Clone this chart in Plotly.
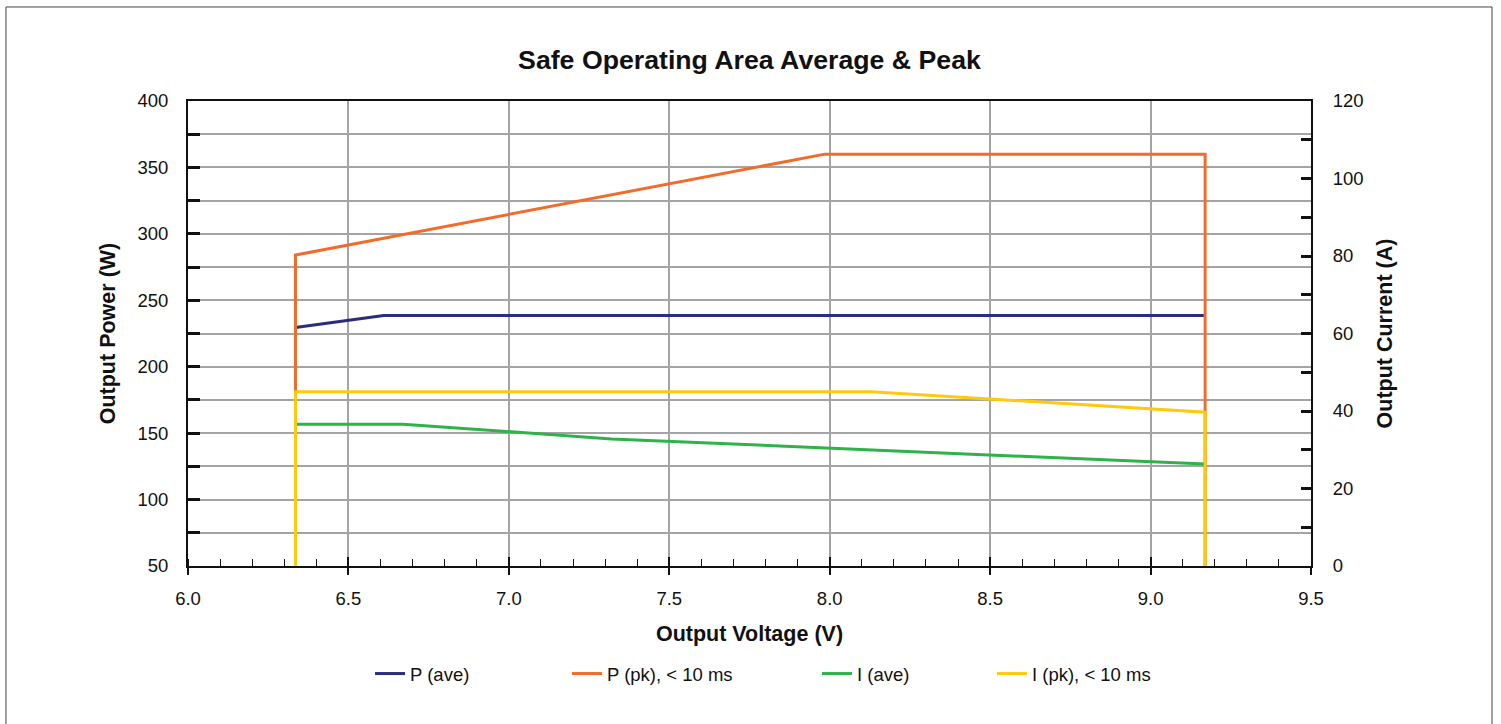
import plotly.graph_objects as go

# ---- data ----
volt_p_ave = [6.335, 6.61, 9.17]
p_ave = [229.5, 238.5, 238.5]

volt_p_pk = [6.335, 6.335, 7.985, 9.17, 9.17]
p_pk = [50, 284, 360, 360, 50]

volt_i_ave = [6.335, 6.67, 7.32, 9.17]
i_ave = [36.6, 36.6, 32.8, 26.3]

volt_i_pk = [6.335, 6.335, 8.13, 9.17, 9.17]
i_pk = [0, 45, 45, 39.7, 0]

series_names = ["P (ave)", "P (pk), < 10 ms", "I (ave)", "I (pk), < 10 ms"]
colors = ["#2b2d7c", "#f26b2b", "#2db34a", "#ffc90e"]

FONT = "Liberation Sans, Arial, sans-serif"

fig = go.Figure()
fig.add_trace(go.Scatter(x=volt_p_ave, y=p_ave, mode="lines", name=series_names[0],
                         line=dict(color=colors[0], width=3), legend="legend"))
fig.add_trace(go.Scatter(x=volt_p_pk, y=p_pk, mode="lines", name=series_names[1],
                         line=dict(color=colors[1], width=3), legend="legend2"))
fig.add_trace(go.Scatter(x=volt_i_ave, y=i_ave, mode="lines", name=series_names[2],
                         line=dict(color=colors[2], width=3), yaxis="y2", legend="legend3"))
fig.add_trace(go.Scatter(x=volt_i_pk, y=i_pk, mode="lines", name=series_names[3],
                         line=dict(color=colors[3], width=3), yaxis="y2", legend="legend4"))
# empty helper trace so the overlay axis for inner major x ticks is drawn
fig.add_trace(go.Scatter(x=[], y=[], xaxis="x3", showlegend=False, hoverinfo="skip"))

leg_common = dict(orientation="h", yanchor="middle", y=-0.2323, xanchor="left",
                  font=dict(family=FONT, size=18.5, color="#111"), bgcolor="rgba(0,0,0,0)")

fig.update_layout(
    width=1501, height=724,
    margin=dict(l=188, r=190, t=101, b=158),
    showlegend=True,
    paper_bgcolor="white", plot_bgcolor="white",
    font=dict(family=FONT, color="#111"),
    title=dict(text="<b>Safe Operating Area Average & Peak</b>", x=0.5, xref="paper",
               xanchor="center", y=1 - 60 / 724, yanchor="middle",
               font=dict(family=FONT, size=26.7, color="#111")),
    xaxis=dict(range=[6.0, 9.5], dtick=0.5, tick0=6.0, tickformat=".1f",
               showgrid=True, gridcolor="#a4a4a4", gridwidth=1.5,
               showline=True, linecolor="#111", linewidth=1.5, mirror=True,
               ticks="outside", ticklen=7, tickwidth=1.5, tickcolor="#111",
               minor=dict(dtick=0.1, ticks="inside", ticklen=7, tickwidth=1.2,
                          tickcolor="#111", showgrid=False),
               tickfont=dict(size=18.5), ticklabelstandoff=8,
               title=dict(text="<b>Output Voltage (V)</b>", font=dict(size=21.5), standoff=18),
               zeroline=False),
    xaxis3=dict(range=[6.0, 9.5], matches="x", overlaying="x", anchor="y", side="bottom",
                dtick=0.5, tick0=6.0, ticks="inside", ticklen=9, tickwidth=1.5,
                tickcolor="#111", showticklabels=False, showgrid=False, showline=False,
                zeroline=False),
    yaxis=dict(range=[50, 400], dtick=50, tick0=50,
               showgrid=True, gridcolor="#a4a4a4", gridwidth=1.5,
               showline=True, linecolor="#111", linewidth=2,
               ticks="inside", ticklen=12, tickwidth=2.5, tickcolor="#111",
               minor=dict(dtick=25, ticks="inside", ticklen=12, tickwidth=2.5,
                          tickcolor="#111", showgrid=True, gridcolor="#a4a4a4", gridwidth=1.5),
               tickfont=dict(size=18.5), ticklabelstandoff=14,
               title=dict(text="<b>Output Power (W)</b>", font=dict(size=21.5), standoff=16),
               zeroline=False),
    yaxis2=dict(range=[0, 120], dtick=20, tick0=0, overlaying="y", side="right",
                showgrid=False, showline=True, linecolor="#111", linewidth=2,
                ticks="inside", ticklen=10, tickwidth=2.5, tickcolor="#111",
                minor=dict(dtick=10, ticks="inside", ticklen=10, tickwidth=2.5,
                           tickcolor="#111", showgrid=False),
                tickfont=dict(size=18.5), ticklabelstandoff=16,
                title=dict(text="<b>Output Current (A)</b>", font=dict(size=21.5), standoff=14),
                zeroline=False),
    legend=dict(x=0.1621, **leg_common),
    legend2=dict(x=0.3375, **leg_common),
    legend3=dict(x=0.5601, **leg_common),
    legend4=dict(x=0.7159, **leg_common),
    shapes=[dict(type="rect", xref="paper", yref="paper",
                 x0=-0.1621, x1=1.1612, y0=-0.36, y1=1.2022,
                 line=dict(color="#444", width=1), fillcolor="rgba(0,0,0,0)", layer="below")],
)

fig.write_html("out.html", config={"displayModeBar": False},
               post_script="document.body.style.margin='0';")
